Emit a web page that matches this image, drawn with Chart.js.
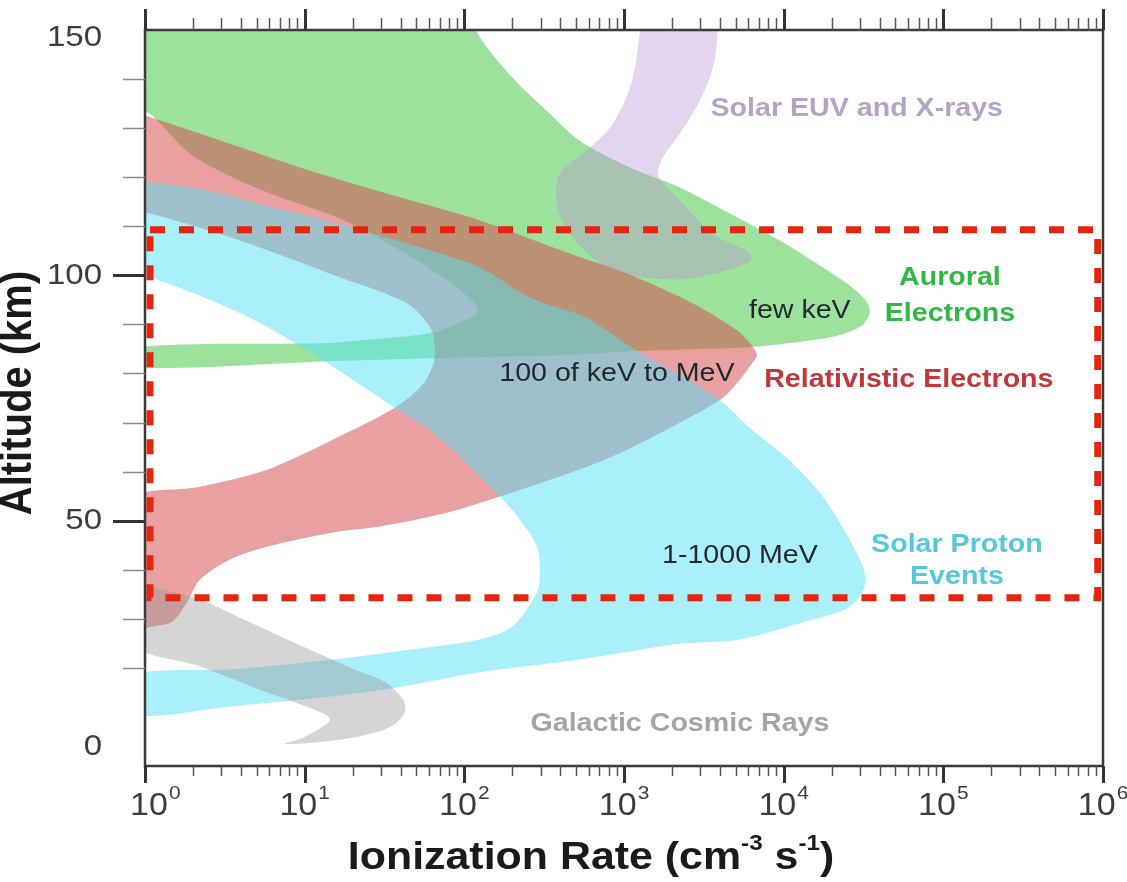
<!DOCTYPE html>
<html>
<head>
<meta charset="utf-8">
<title>Ionization rate vs altitude</title>
<script src="https://cdn.jsdelivr.net/npm/chart.js@4.4.0/dist/chart.umd.min.js"></script>
<style>
  html, body { margin: 0; padding: 0; background: #fff; }
  #chart { display: block; }
</style>
</head>
<body>
<canvas id="chart" width="1127" height="882"></canvas>
<script>
// band outlines, as ionization rate (cm-3 s-1) and altitude (km)
const auroralRate = [0.8, 115, 120, 201, 329, 530, 1089, 2239, 4601, 9462, 16860, 25950, 32710, 34670, 30890, 20930, 10940, 6412, 2986, 1204, 397, 63.6, 14.4, 0.8, 0.8, 14.4, 23.2, 60.9, 93.8, 122, 113, 77.8, 39.5, 16.6, 8.09, 3.93, 1.91, 1.075, 0.8, 0.8];
const auroralAlt = [155, 155, 149.6, 140.2, 133.5, 127.4, 122.0, 117.9, 112.6, 107.1, 102.0, 97.9, 94.9, 92.5, 89.8, 87.6, 86.2, 85.4, 85.0, 84.6, 83.7, 83.1, 82.5, 81.3, 85.2, 86.2, 86.8, 88.2, 90.4, 92.5, 94.7, 99.0, 105.1, 111.6, 115.2, 119.3, 124.8, 132.9, 134, 155];

const relRate = [0.8, 2.21, 9.35, 39.5, 125, 530, 942, 2477, 5093, 6412, 6792, 6412, 5093, 3985, 1518, 706, 167, 77.8, 29.6, 15.0, 5.81, 3.41, 2.21, 1.83, 1.50, 1.24, 0.8, 0.8, 2.21, 5.81, 15.0, 36.7, 54.2, 63.6, 65.5, 60.9, 43.7, 16.6, 3.93, 1.075, 0.8, 0.8];
const relAlt = [133.6, 128.9, 122.0, 115.9, 111.2, 103.7, 101.0, 94.9, 88.8, 85.4, 83.7, 82.3, 78.0, 74.6, 67.1, 62.0, 54.9, 51.6, 48.8, 47.6, 44.7, 42.1, 38.0, 33.3, 29.5, 28.7, 28.5, 53.9, 56.9, 60.4, 66.5, 73.0, 77.6, 81.7, 85.4, 89.4, 94.3, 99.6, 107.1, 112.6, 113.0, 133.6];

const speRate = [0.8, 2.44, 6.33, 15.0, 29.6, 60.9, 125, 258, 586, 1204, 2239, 3985, 6141, 10940, 17590, 25950, 30890, 32710, 30000, 24170, 13970, 5318, 2239, 530, 125, 39.5, 15.0, 3.56, 0.8, 0.8, 3.56, 15.0, 47.7, 125, 201, 285, 297, 285, 223, 167, 98, 60.9, 35.7, 26.8, 10.3, 3.93, 1.075, 0.8, 0.8];
const speAlt = [119.5, 117.3, 113.8, 110.8, 108.1, 105.1, 101.6, 95.5, 91.3, 84.6, 79.7, 74.6, 68.9, 62.2, 54.9, 46.1, 41.1, 37.6, 34.6, 31.9, 29.5, 25.8, 24.9, 21.7, 19.1, 16.1, 14.2, 12.2, 10.6, 18.3, 19.7, 21.7, 23.8, 25.8, 28.5, 35.4, 39.0, 44.7, 50.2, 54.9, 62.4, 68.5, 73.2, 76.0, 84.8, 92.3, 99.6, 99.8, 119.5];

const gcrRate = [0.8, 2.21, 4.54, 9.35, 19.2, 31.8, 41.3, 42.5, 36.7, 25.6, 14.4, 7.53, 10.0, 14.4, 9.35, 5.81, 2.21, 0.8, 0.8];
const gcrAlt = [37.6, 33.9, 29.3, 24.6, 20.1, 17.1, 13.6, 11.2, 8.5, 6.5, 5.1, 4.5, 5.9, 9.6, 12.6, 15.0, 20.3, 25.0, 37.6];

const euvRate = [3900, 3873, 3603, 2986, 2239, 1748, 1631, 1748, 2239, 3603, 6141, 6141, 3985, 2239, 1170, 706, 493, 397, 375, 408, 611, 851, 1110, 1258, 1280, 3900];
const euvAlt = [155, 149.6, 142.3, 135.6, 128.9, 124.0, 120.7, 118.9, 115.2, 108.5, 104.5, 102.8, 100.6, 99.2, 99.8, 102.6, 107.1, 112.2, 117.3, 121.4, 126.0, 130.9, 139.0, 149.6, 155, 155];

// red dashed box
const boxRate = [1.075, 927000, 927000, 1.075, 1.075];
const boxAlt = [109.3, 109.3, 34.3, 34.3, 109.3];

// axes
const xDecades = [0, 1, 2, 3, 4, 5, 6];
const yLabels = [0, 50, 100, 150];
const yMajorTicks = [50, 100];
const yMinorTicks = [20, 30, 40, 60, 70, 80, 90, 110, 120, 130, 140];

function pts(xs, ys) {
    return xs.map((x, i) => ({ x: x, y: ys[i] }));
}

function band(label, xs, ys, color, order) {
    return {
        label: label,
        data: pts(xs, ys),
        backgroundColor: color,
        borderColor: 'rgba(0,0,0,0)',
        borderWidth: 0,
        fill: 'shape',
        pointRadius: 0,
        tension: 0.3,
        order: order
    };
}

// text squeezed a bit wider like the source picture
function txt(ctx, s, x, y, font, color, align) {
    ctx.save();
    ctx.font = font;
    ctx.fillStyle = color;
    ctx.textAlign = align || 'center';
    ctx.textBaseline = 'middle';
    ctx.translate(x, y);
    ctx.scale(1.1, 1);
    ctx.fillText(s, 0, 0);
    ctx.restore();
}

const notes = [
    { text: 'Solar EUV and X-rays', x: 28700, y: 133.9, color: '#b3a3c7', bold: true },
    { text: 'Auroral', x: 109900, y: 99.4, color: '#2fb845', bold: true },
    { text: 'Electrons', x: 109900, y: 92.1, color: '#2fb845', bold: true },
    { text: 'Relativistic Electrons', x: 60800, y: 78.7, color: '#c0383c', bold: true },
    { text: 'Solar Proton', x: 121600, y: 45.1, color: '#55c8dc', bold: true },
    { text: 'Events', x: 121600, y: 38.6, color: '#55c8dc', bold: true },
    { text: 'Galactic Cosmic Rays', x: 2240, y: 8.5, color: '#a5a5a5', bold: true },
    { text: 'few keV', x: 12620, y: 92.7, color: '#1f2730', bold: false },
    { text: '100 of keV to MeV', x: 903, y: 79.9, color: '#1f2730', bold: false },
    { text: '1-1000 MeV', x: 5320, y: 42.9, color: '#1f2730', bold: false }
];

const frame = {
    id: 'frame',
    beforeDatasetDraw(chart, args) {
        // plot border goes under the red dashes but over the bands
        if (args.meta.order !== 1) return;
        const ctx = chart.ctx;
        const a = chart.chartArea;
        ctx.save();
        ctx.strokeStyle = '#3a3a3a';
        ctx.lineWidth = 2.5;
        ctx.strokeRect(a.left, a.top, a.right - a.left, a.bottom - a.top);
        ctx.restore();
    },
    afterDraw(chart) {
        const ctx = chart.ctx;
        const a = chart.chartArea;
        const xs = chart.scales.x;
        const ys = chart.scales.y;
        ctx.save();

        // x ticks, bottom and top
        xDecades.forEach(d => {
            for (let m = 1; m <= 9; m++) {
                if (d === 6 && m > 1) break;
                const px = Math.round(xs.getPixelForValue(m * Math.pow(10, d))) + 0.5;
                const major = m === 1;
                ctx.strokeStyle = major ? '#333' : '#555';
                ctx.lineWidth = major ? 3 : 1.5;
                ctx.beginPath();
                ctx.moveTo(px, a.bottom);
                ctx.lineTo(px, a.bottom + (major ? 17 : 10));
                ctx.moveTo(px, a.top);
                ctx.lineTo(px, a.top - (major ? 21 : 12));
                ctx.stroke();
            }
        });

        // y ticks
        yMinorTicks.forEach(v => {
            const py = Math.round(ys.getPixelForValue(v)) + 0.5;
            ctx.strokeStyle = '#8a8a8a';
            ctx.lineWidth = 1.5;
            ctx.beginPath();
            ctx.moveTo(a.left - 22, py);
            ctx.lineTo(a.left, py);
            ctx.stroke();
        });
        yMajorTicks.forEach(v => {
            const py = Math.round(ys.getPixelForValue(v)) + 0.5;
            ctx.strokeStyle = '#333';
            ctx.lineWidth = 3;
            ctx.beginPath();
            ctx.moveTo(a.left - 32, py);
            ctx.lineTo(a.left, py);
            ctx.stroke();
        });

        // y tick labels
        yLabels.forEach(v => {
            let py = ys.getPixelForValue(v);
            py = Math.min(Math.max(py, a.top + 8), a.bottom - 19);
            txt(ctx, String(v), a.left - 43, py, '30px "Liberation Sans", Arial, sans-serif', '#3c3c3c', 'right');
        });

        // x tick labels 10^n
        xDecades.forEach(d => {
            const px = xs.getPixelForValue(Math.pow(10, d));
            ctx.font = '31px "Liberation Sans", Arial, sans-serif';
            const w1 = ctx.measureText('10').width * 1.1;
            ctx.font = '19px "Liberation Sans", Arial, sans-serif';
            const w2 = ctx.measureText(String(d)).width * 1.1;
            let left = Math.max(px - (w1 + w2 + 1) / 2, 130);
            txt(ctx, '10', left, a.bottom + 40, '31px "Liberation Sans", Arial, sans-serif', '#3c3c3c', 'left');
            txt(ctx, String(d), left + w1 + 1, a.bottom + 28, '19px "Liberation Sans", Arial, sans-serif', '#3c3c3c', 'left');
        });

        // x title with superscripts
        const big = 'bold 39px "Liberation Sans", Arial, sans-serif';
        const sup = 'bold 22px "Liberation Sans", Arial, sans-serif';
        const parts = [
            ['Ionization Rate (cm', big, 0],
            ['-3', sup, -14],
            [' s', big, 0],
            ['-1', sup, -14],
            [')', big, 0]
        ];
        let total = 0;
        parts.forEach(p => { ctx.font = p[1]; p.push(ctx.measureText(p[0]).width * 1.1); total += p[3]; });
        let cx = (a.left + a.right) / 2 - 33 - total / 2;
        parts.forEach(p => {
            txt(ctx, p[0], cx, 858 + p[2], p[1], '#1a1a1a', 'left');
            cx += p[3];
        });

        // y title
        ctx.save();
        ctx.translate(19, 393);
        ctx.scale(1.1, 1);
        ctx.rotate(-Math.PI / 2);
        ctx.font = 'bold 40px "Liberation Sans", Arial, sans-serif';
        ctx.fillStyle = '#1a1a1a';
        ctx.textAlign = 'center';
        ctx.textBaseline = 'middle';
        ctx.fillText('Altitude (km)', 0, 0);
        ctx.restore();

        // band names and energy notes
        notes.forEach(n => {
            const f = n.bold ? 'bold 26px "Liberation Sans", Arial, sans-serif' : '26px "Liberation Sans", Arial, sans-serif';
            txt(ctx, n.text, xs.getPixelForValue(n.x), ys.getPixelForValue(n.y), f, n.color, 'center');
        });

        ctx.restore();
    }
};

const ctx = document.getElementById('chart').getContext('2d');
const myChart = new Chart(ctx, {
    type: 'line',
    data: {
        datasets: [
            band('Auroral Electrons', auroralRate, auroralAlt, 'rgba(90,205,90,0.6)', 6),
            band('Relativistic Electrons', relRate, relAlt, 'rgba(213,82,82,0.55)', 5),
            band('Solar Proton Events', speRate, speAlt, 'rgba(85,225,245,0.5)', 4),
            band('Galactic Cosmic Rays', gcrRate, gcrAlt, 'rgba(150,150,150,0.4)', 3),
            band('Solar EUV and X-rays', euvRate, euvAlt, 'rgba(185,150,210,0.4)', 2),
            {
                label: 'box',
                data: pts(boxRate, boxAlt),
                borderColor: '#e3260f',
                borderWidth: 7,
                borderDash: [15, 14],
                fill: false,
                pointRadius: 0,
                tension: 0,
                order: 1
            }
        ]
    },
    options: {
        responsive: false,
        animation: false,
        devicePixelRatio: 1,
        layout: {
            padding: { left: 145, right: 24, top: 30, bottom: 116 }
        },
        elements: {
            line: { capBezierPoints: false }
        },
        plugins: {
            legend: { display: false },
            tooltip: { enabled: false }
        },
        scales: {
            x: { type: 'logarithmic', min: 1, max: 1e6, display: false },
            y: { type: 'linear', min: 0, max: 150, display: false }
        }
    },
    plugins: [frame]
});
</script>
</body>
</html>
